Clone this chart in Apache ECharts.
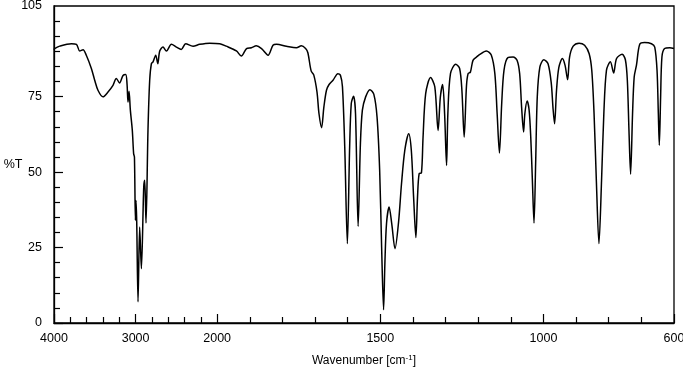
<!DOCTYPE html>
<html>
<head>
<meta charset="utf-8">
<script src="https://cdn.jsdelivr.net/npm/echarts@6/dist/echarts.min.js"></script>
<style>
  html, body { margin: 0; padding: 0; background: #fff; }
  #chart { width: 683px; height: 376px; }
</style>
</head>
<body>
<div id="chart"></div>
<script>
// IR spectrum, wavenumber in cm-1 and transmittance in %T
const wavenumbers = [
  4000, 3992, 3930, 3787, 3725, 3685, 3644, 3604, 3542, 3501, 3461, 3400, 3338, 3277, 3236, 3196,
  3154, 3121, 3105, 3093, 3080, 3064, 3040, 3024, 3014, 3002, 2995, 2986, 2970, 2950, 2929, 2900,
  2888, 2872, 2848, 2827, 2806, 2786, 2753, 2728, 2704, 2664, 2622, 2561, 2500, 2440, 2386, 2296,
  2214, 2092, 1992, 1972, 1941, 1926, 1910, 1895, 1880, 1864, 1844, 1829, 1818, 1788, 1757, 1742,
  1729, 1722, 1712, 1704, 1694, 1688, 1680, 1673, 1665, 1657, 1645, 1630, 1622, 1616, 1609, 1601,
  1594, 1589, 1582, 1576, 1568, 1561, 1555, 1545, 1532, 1520, 1510, 1502, 1496, 1490, 1486, 1481,
  1473, 1465, 1455, 1444, 1435, 1425, 1413, 1405, 1398, 1391, 1386, 1381, 1374, 1369, 1361, 1346,
  1333, 1323, 1316, 1309, 1303, 1297, 1293, 1285, 1269, 1257, 1250, 1243, 1236, 1231, 1224, 1216,
  1205, 1195, 1175, 1160, 1149, 1142, 1135, 1128, 1121, 1109, 1093, 1081, 1073, 1067, 1061, 1057,
  1050, 1044, 1039, 1034, 1029, 1024, 1019, 1011, 999, 986, 976, 971, 966, 960, 953, 942,
  934, 926, 920, 909, 891, 874, 860, 852, 845, 838, 830, 822, 815, 807, 795, 785,
  776, 759, 749, 743, 738, 733, 727, 722, 715, 705, 690, 669, 659, 652, 648, 645,
  641, 637, 629, 613, 600
];
const transmittance = [
  90.5, 90.9, 91.7, 92.5, 92.3, 90.1, 90.5, 88.7, 84.3, 80.4, 77.1, 74.9, 76.5, 78.7, 81.0, 79.5,
  82.0, 82.3, 79.3, 73.2, 76.8, 70.5, 63.8, 56.1, 55.0, 34.0, 40.6, 33.5, 7.0, 31.8, 18.0, 45.0,
  47.3, 33.1, 63.8, 80.4, 85.9, 86.5, 88.7, 85.9, 90.1, 91.4, 90.1, 92.3, 91.4, 90.6, 92.5, 91.7,
  92.3, 92.7, 92.5, 91.7, 90.1, 88.4, 90.9, 91.2, 91.8, 90.9, 88.7, 92.0, 92.3, 91.7, 91.2, 91.8,
  90.9, 89.5, 83.5, 82.2, 76.5, 69.4, 64.7, 71.5, 77.1, 79.0, 80.4, 82.6, 82.0, 78.2, 58.3, 26.3,
  58.3, 72.7, 75.1, 69.4, 32.0, 59.4, 70.5, 74.9, 77.3, 75.8, 68.2, 50.6, 25.2, 4.4, 19.7, 32.9,
  38.4, 32.9, 24.6, 33.5, 46.2, 57.2, 62.7, 57.2, 41.7, 28.3, 41.7, 49.5, 49.7, 61.6, 76.0, 81.3,
  78.2, 63.8, 74.9, 79.0, 69.4, 52.2, 69.4, 82.6, 85.7, 84.3, 77.1, 61.6, 78.5, 82.6, 83.1, 87.0,
  88.1, 89.0, 90.1, 88.8, 82.6, 69.4, 56.3, 72.7, 83.7, 87.9, 88.1, 87.0, 82.6, 71.5, 63.3, 69.4,
  73.5, 70.5, 61.6, 47.3, 33.1, 52.8, 74.9, 84.8, 87.2, 85.9, 79.3, 71.5, 66.0, 77.1, 84.6, 87.6,
  85.4, 80.6, 88.1, 91.7, 92.7, 92.0, 89.2, 83.7, 69.4, 47.3, 26.3, 47.3, 69.4, 83.7, 86.5, 82.8,
  87.6, 89.0, 87.2, 80.4, 63.8, 49.3, 69.4, 81.5, 85.4, 92.3, 92.9, 92.5, 91.4, 83.7, 69.4, 58.9,
  74.9, 88.1, 90.9, 91.2, 90.9
];

// tick labels
const xLabelValues = [4000, 3000, 2000, 1500, 1000, 600];
const xMinorValues = [3800, 3600, 3400, 3200, 2800, 2600, 2400, 2200,
  1900, 1800, 1700, 1600, 1400, 1300, 1200, 1100, 900, 800, 700];
const yLabelValues = [0, 25, 50, 75, 105];
const yMajorValues = [0, 25, 50, 75];
const yMinorValues = [5, 10, 15, 20, 30, 35, 40, 45, 55, 60, 65, 70, 80, 85, 90, 95, 100];

// the wavenumber axis is compressed 4x above 2000 cm-1
function toAxis(w) {
  return w >= 2000 ? (4000 - w) / 4 : 500 + (2000 - w);
}
function fromAxis(u) {
  return u <= 500 ? 4000 - u * 4 : 2000 - (u - 500);
}

const chart = echarts.init(document.getElementById('chart'));
const font = 'Liberation Sans, Arial, sans-serif';
const axisMax = toAxis(600);

const option = {
  animation: false,
  backgroundColor: '#fff',
  grid: {
    left: 54, right: 9, top: 6, bottom: 53,
    outerBoundsMode: 'none',
    show: true, borderColor: '#000', borderWidth: 1.3
  },
  xAxis: [
    {
      type: 'value', min: 0, max: axisMax, position: 'bottom',
      name: '{a|Wavenumber [cm}{s|-1}{a|]}',
      nameLocation: 'middle', nameGap: 31, nameMoveOverlap: false,
      nameTextStyle: {
        rich: {
          a: { fontFamily: font, fontSize: 12, color: '#000' },
          s: { fontFamily: font, fontSize: 8, color: '#000', verticalAlign: 'top', padding: [0, 0, 6, 0] }
        }
      },
      axisLine: { show: true, lineStyle: { color: '#000', width: 1.3 } },
      axisTick: { show: true, inside: true, length: 9, customValues: xLabelValues.map(toAxis), lineStyle: { color: '#000', width: 1.2 } },
      axisLabel: {
        customValues: xLabelValues.map(toAxis),
        formatter: v => String(Math.round(fromAxis(v))),
        color: '#000', fontFamily: font, fontSize: 12.5, margin: 9
      },
      splitLine: { show: false }
    },
    {
      type: 'value', min: 0, max: axisMax, position: 'bottom', offset: 0,
      axisLine: { show: false },
      axisTick: { show: true, inside: true, length: 6, customValues: xMinorValues.map(toAxis), lineStyle: { color: '#000', width: 1.2 } },
      axisLabel: { show: false },
      splitLine: { show: false }
    }
  ],
  yAxis: [
    {
      type: 'value', min: 0, max: 105, position: 'left',
      name: '%T', nameLocation: 'middle', nameRotate: 0, nameGap: 41, nameMoveOverlap: false,
      nameTextStyle: { fontFamily: font, fontSize: 12.5, color: '#000', align: 'center' },
      axisLine: { show: true, lineStyle: { color: '#000', width: 1.3 } },
      axisTick: { show: true, inside: true, length: 9, customValues: yMajorValues, lineStyle: { color: '#000', width: 1.2 } },
      axisLabel: {
        customValues: yLabelValues,
        color: '#000', fontFamily: font, fontSize: 12.5, margin: 12
      },
      splitLine: { show: false }
    },
    {
      type: 'value', min: 0, max: 105, position: 'left', offset: 0,
      axisLine: { show: false },
      axisTick: { show: true, inside: true, length: 6, customValues: yMinorValues, lineStyle: { color: '#000', width: 1.2 } },
      axisLabel: { show: false },
      splitLine: { show: false }
    }
  ],
  series: [
    {
      type: 'line',
      xAxisIndex: 0,
      yAxisIndex: 0,
      data: wavenumbers.map((w, i) => [toAxis(w), transmittance[i]]),
      showSymbol: false,
      smooth: 0.3,
      lineStyle: { color: '#000', width: 1.5 },
      clip: true
    }
  ]
};

chart.setOption(option);
</script>
</body>
</html>
